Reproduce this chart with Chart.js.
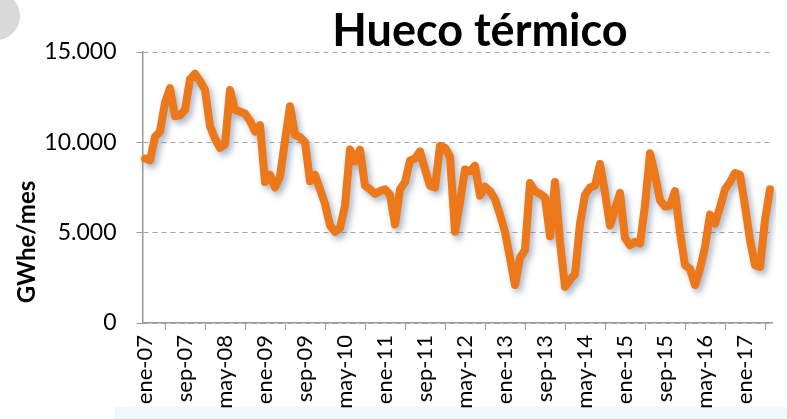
<!DOCTYPE html>
<html lang="es">
<head>
<meta charset="utf-8">
<title>Hueco térmico</title>
<script src="https://cdn.jsdelivr.net/npm/chart.js@4.4.1/dist/chart.umd.min.js"></script>
<style>
  html, body { margin: 0; padding: 0; background: #fff; }
  .chart-container { position: relative; width: 787px; height: 419px; }
</style>
</head>
<body>
<div class="chart-container"><canvas id="chart"></canvas></div>
<script>
// Month names and years used to build the category labels (ene-07 .. jun-17)
const monthNames = ['ene', 'feb', 'mar', 'abr', 'may', 'jun', 'jul', 'ago', 'sep', 'oct', 'nov', 'dic'];
const years = ['07', '08', '09', '10', '11', '12', '13', '14', '15', '16', '17'];
const lastLabel = 'jun-17';

// Hueco térmico, GWhe/mes
const huecoTermico = [
  9100, 9000, 10300, 10600, 12200, 13000, 11450, 11500, 11800, 13500, 13800, 13400,
  12900, 10900, 10200, 9700, 9900, 12900, 11800, 11700, 11600, 11200, 10600, 10950,
  7800, 8200, 7500, 8100, 10100, 12000, 10400, 10300, 10000, 7850, 8200, 7400,
  6600, 5400, 5050, 5250, 6500, 9600, 8950, 9600, 7600, 7400, 7150, 7300,
  7400, 7100, 5450, 7400, 7800, 9000, 9100, 9500, 8500, 7600, 7500, 9800,
  9700, 9200, 5050, 6700, 8500, 8400, 8700, 7050, 7550, 7300, 6850, 6000,
  5050, 3600, 2100, 3600, 4050, 7750, 7300, 7150, 6950, 4800, 7800, 4500,
  2000, 2400, 2700, 5500, 7100, 7500, 7600, 8800, 7200, 5400, 6300, 7200,
  4700, 4300, 4500, 4400, 6500, 9400, 8200, 6800, 6450, 6500, 7300, 5000,
  3200, 3000, 2100, 3000, 4200, 6000, 5500, 6400, 7400, 7800, 8300, 8200,
  6500, 4600, 3200, 3100, 5700, 7400
];

const yMax = 15000;
const yStep = 5000;
const labelEvery = 8;

const labels = [];
for (const y of years) {
  for (const m of monthNames) {
    if (labels.length && labels[labels.length - 1] === lastLabel) break;
    labels.push(m + '-' + y);
  }
}

const fmtThousands = v => String(v).replace(/\B(?=(\d{3})+(?!\d))/g, '.');

// soft shadow under the line, like the slide
const lineShadow = {
  id: 'lineShadow',
  beforeDatasetsDraw(chart) {
    const ctx = chart.ctx;
    ctx.save();
    ctx.shadowColor = 'rgba(70, 95, 130, 0.45)';
    ctx.shadowBlur = 6;
    ctx.shadowOffsetX = 3;
    ctx.shadowOffsetY = 4;
  },
  afterDatasetsDraw(chart) {
    chart.ctx.restore();
  }
};

// title, axis title and the bits of slide around the chart
const slideText = {
  id: 'slideText',
  beforeDraw(chart) {
    const ctx = chart.ctx;
    ctx.save();
    ctx.fillStyle = '#d9d9d9';
    ctx.beginPath();
    ctx.arc(-4, 16, 24, 0, Math.PI * 2);
    ctx.fill();
    ctx.fillStyle = 'rgba(228, 244, 249, 0.6)';
    ctx.fillRect(115, 407, 672, 12);
    ctx.restore();
  },
  afterDraw(chart) {
    const ctx = chart.ctx;
    ctx.save();
    ctx.fillStyle = '#000';
    ctx.textAlign = 'center';
    ctx.textBaseline = 'alphabetic';
    ctx.font = 'bold 45px Lato, "Liberation Sans", sans-serif';
    ctx.fillText('Hueco térmico', 480, 46);
    ctx.translate(35, 242);
    ctx.rotate(-Math.PI / 2);
    ctx.font = 'bold 24px Lato, "Liberation Sans", sans-serif';
    ctx.fillText('GWhe/mes', 0, 0);
    ctx.restore();
  }
};

Chart.defaults.font.family = 'Lato, "Liberation Sans", sans-serif';
Chart.defaults.color = '#000';

new Chart(document.getElementById('chart').getContext('2d'), {
  type: 'line',
  data: {
    labels,
    datasets: [{
      label: 'Hueco térmico',
      data: huecoTermico,
      borderColor: 'rgb(236, 120, 26)',
      borderWidth: 8,
      borderJoinStyle: 'round',
      borderCapStyle: 'round',
      pointRadius: 0,
      tension: 0,
      fill: false
    }]
  },
  options: {
    responsive: true,
    maintainAspectRatio: false,
    animation: false,
    devicePixelRatio: 1,
    layout: { padding: { left: 0, right: 14.5, top: 52, bottom: 0 } },
    plugins: {
      legend: { display: false },
      title: { display: false },
      tooltip: { enabled: false }
    },
    scales: {
      x: {
        type: 'category',
        offset: true,
        afterFit: scale => { scale.height = 96; },
        grid: {
          offset: true,
          drawOnChartArea: false,
          drawTicks: true,
          tickLength: 7,
          color: '#9a9a9a'
        },
        border: { display: true, color: '#9a9a9a', width: 1.5 },
        ticks: {
          autoSkip: false,
          minRotation: 90,
          maxRotation: 90,
          padding: 5,
          font: { size: 22 },
          callback: (val, idx) => (idx % labelEvery === 0 ? labels[idx] : null)
        }
      },
      y: {
        min: 0,
        max: yMax,
        afterFit: scale => { scale.width = 142.5; },
        grid: {
          color: '#a6a6a6',
          lineWidth: 1,
          drawTicks: true,
          tickLength: 6,
          tickColor: '#9a9a9a'
        },
        border: { display: true, color: '#9a9a9a', width: 1.5, dash: [5, 4] },
        ticks: {
          stepSize: yStep,
          padding: 20,
          font: { size: 23 },
          callback: v => fmtThousands(v)
        }
      }
    }
  },
  plugins: [lineShadow, slideText]
});
</script>
</body>
</html>
